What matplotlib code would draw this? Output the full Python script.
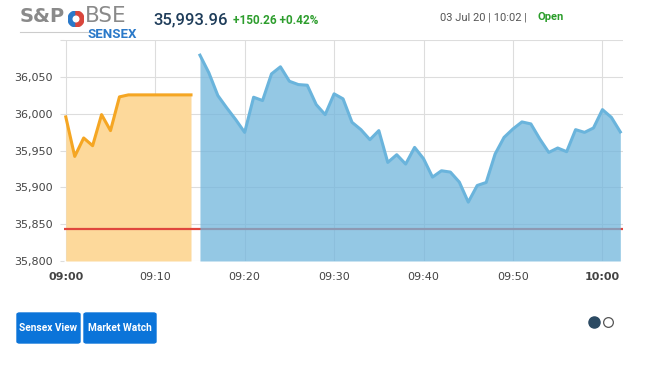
import matplotlib.pyplot as plt
from matplotlib.patches import FancyBboxPatch, Circle, Wedge

# minutes after 09:00
pre_min = list(range(0, 15))
pre_val = [35995.6, 35942, 35967, 35956.5, 35998.7, 35977, 36022.8, 36025.5,
           36025.5, 36025.5, 36025.5, 36025.5, 36025.5, 36025.5, 36025.5]

mkt_min = list(range(15, 63))
mkt_val = [36079.4, 36055.4, 36024.6, 36007.8, 35991.9, 35974.6, 36022.3, 36017.8,
           36054.0, 36063.6, 36044.0, 36039.5, 36038.6, 36012.3, 35998.7, 36026.9,
           36020.1, 35988.3, 35978.3, 35964.7, 35977.0, 35933.8, 35944.3, 35931.6,
           35954.2, 35938.8, 35913.9, 35922.5, 35920.7, 35907.1, 35879.9, 35902.5,
           35906.6, 35945.2, 35967.8, 35979.3, 35988.8, 35986.1, 35965.6, 35947.4,
           35953.4, 35948.4, 35978.3, 35974.6, 35980.6, 36005.5, 35995.0, 35975.2]

prev_close = 35843.70
x_ticks = [0, 10, 20, 30, 40, 50, 60]
x_labels = ['09:00', '09:10', '09:20', '09:30', '09:40', '09:50', '10:00']
y_ticks = [35800, 35850, 35900, 35950, 36000, 36050, 36100]
y_labels = ['35,800', '35,850', '35,900', '35,950', '36,000', '36,050', '']

fig = plt.figure(figsize=(6.45, 3.66), dpi=100)
ax = fig.add_axes([64/645, 1 - 261/366, (623 - 64)/645, (261 - 40)/366])

ax.fill_between(pre_min, pre_val, 35800, color='#fdd99b', lw=0, zorder=1)
ax.plot(pre_min, pre_val, color='#f5a623', lw=2.2, zorder=4)
ax.axhline(prev_close, color='#e0463c', lw=1.6, zorder=2)
ax.fill_between(mkt_min, mkt_val, 35800, color='#71b6dc', alpha=0.75, lw=0, zorder=3)
ax.plot(mkt_min, mkt_val, color='#6ab4dc', lw=2.2, zorder=4)

ax.set_xlim(-0.2, 62.3)
ax.set_ylim(35800, 36100)
ax.set_xticks(x_ticks)
ax.set_xticklabels(x_labels)
ax.set_yticks(y_ticks)
ax.set_yticklabels(y_labels)
for lbl in ax.get_xticklabels():
    if lbl.get_text() in ('09:00', '10:00'):
        lbl.set_fontweight('bold')
        lbl.set_color('#222222')
ax.tick_params(axis='x', length=0, pad=8, labelsize=8, labelcolor='#444444')
ax.tick_params(axis='y', length=3, width=0.8, color='#dddddd', pad=5,
               labelsize=8, labelcolor='#444444')
ax.grid(True, color='#dddddd', lw=0.8, zorder=0)
ax.set_axisbelow(True)
for s in ax.spines.values():
    s.set_visible(False)

# header
fig.text(20/645, 0.955, 'S&P', fontsize=14, fontweight='bold', color='#8a8a8a',
         va='center', family='DejaVu Sans')
logo = fig.add_axes([68/645, 1 - 30/366, 16/645, 22/366])
logo.set_xlim(-1, 1)
logo.set_ylim(-1, 1)
logo.set_aspect('equal')
logo.axis('off')
logo.add_patch(Wedge((0, 0), 1, 90, 270, color='#2a79c9'))
logo.add_patch(Wedge((0, 0), 1, -90, 90, color='#d9463c'))
logo.add_patch(Circle((0, 0), 0.35, color='white'))
fig.text(85/645, 0.955, 'BSE', fontsize=15.5, color='#8a8a8a', va='center',
         family='DejaVu Sans')
fig.add_artist(plt.Line2D([20/645, 88/645], [1 - 32/366, 1 - 32/366],
                          color='#cccccc', lw=0.8))
fig.text(88/645, 0.905, 'SENSEX', fontsize=9.5, fontweight='bold', color='#2a79c9',
         va='center', family='Roboto')
fig.text(153/645, 0.945, '35,993.96', fontsize=12, color='#1f3d5a', va='center',
         family='Roboto', fontweight='medium')
fig.text(233/645, 0.945, '+150.26 +0.42%', fontsize=8.5, color='#2e9e2e', va='center',
         family='Roboto', fontweight='bold')
fig.text(440/645, 0.953, '03 Jul 20 | 10:02 | ', fontsize=8, color='#555555',
         va='center', family='Roboto')
fig.text(537/645, 0.953, 'Open', fontsize=8, color='#2a9d2a', va='center',
         family='Roboto', fontweight='bold')

# buttons
for x0, x1, label in [(17, 80, 'Sensex View'), (84, 156, 'Market Watch')]:
    fig.add_artist(FancyBboxPatch((x0/645, 1 - 343/366), (x1 - x0)/645, 30/366,
                                  boxstyle='round,pad=0,rounding_size=0.004',
                                  transform=fig.transFigure, color='#0b74d9'))
    fig.text((x0 + x1)/2/645, 1 - 328/366, label, fontsize=7.3, color='white',
             fontweight='bold', ha='center', va='center', family='Roboto')

# page dots
fig.add_artist(plt.Line2D([594/645], [1 - 322/366], marker='o', markersize=8,
                          color='#2c4a63', transform=fig.transFigure))
fig.add_artist(plt.Line2D([608/645], [1 - 322/366], marker='o', markersize=7,
                          markerfacecolor='white', markeredgecolor='#555555',
                          markeredgewidth=0.9, transform=fig.transFigure))

fig.savefig('out.png', dpi=100)
